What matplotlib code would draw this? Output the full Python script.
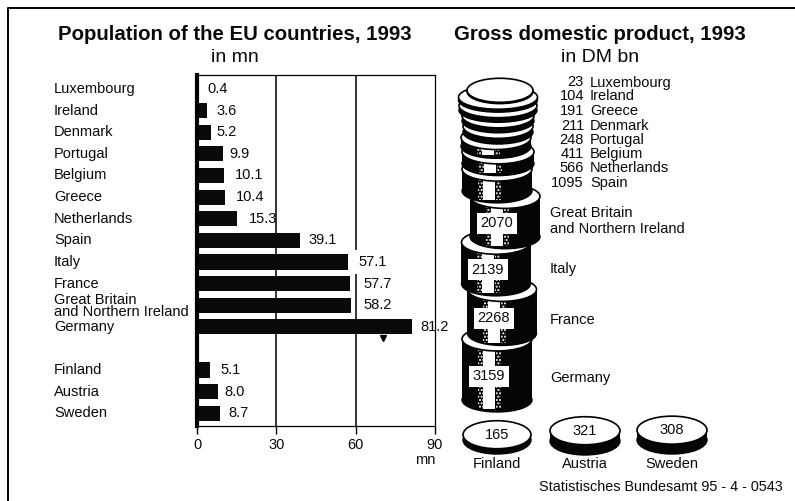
import matplotlib
matplotlib.use('agg')
import matplotlib.pyplot as plt
from matplotlib.patches import Ellipse, Rectangle

plt.rcParams['font.family'] = ['Liberation Sans', 'DejaVu Sans']

# population, mn
countries = ['Luxembourg', 'Ireland', 'Denmark', 'Portugal', 'Belgium', 'Greece', 'Netherlands',
             'Spain', 'Italy', 'France', 'Great Britain\nand Northern Ireland', 'Germany',
             'Finland', 'Austria', 'Sweden']
population = [0.4, 3.6, 5.2, 9.9, 10.1, 10.4, 15.3, 39.1, 57.1, 57.7, 58.2, 81.2, 5.1, 8.0, 8.7]
pop_labels = ['0.4', '3.6', '5.2', '9.9', '10.1', '10.4', '15.3', '39.1', '57.1', '57.7', '58.2',
              '81.2', '5.1', '8.0', '8.7']
rows = [0, 1, 2, 3, 4, 5, 6, 7, 8, 9, 10, 11, 13, 14, 15]
x_ticks = [0, 30, 60, 90]

# gdp, DM bn, top of the stack first
stack_names = ['Luxembourg', 'Ireland', 'Greece', 'Denmark', 'Portugal', 'Belgium', 'Netherlands', 'Spain',
               'Great Britain\nand Northern Ireland', 'Italy', 'France', 'Germany']
stack_gdp = [23, 104, 191, 211, 248, 411, 566, 1095, 2070, 2139, 2268, 3159]
single_names = ['Finland', 'Austria', 'Sweden']
single_gdp = [165, 321, 308]

W, H = 795, 501
fig = plt.figure(figsize=(W / 100, H / 100), dpi=100)


def fx(px):
    return px / W


def fy(py):
    return 1 - py / H


def label(px, py, s, **kw):
    kw.setdefault('va', 'center')
    kw.setdefault('fontsize', 10.5)
    fig.text(fx(px), fy(py), s, color='#0a0a0a', **kw)


# frame, only left and top survive in the scan
fig.add_artist(plt.Line2D([fx(8), fx(8), fx(795)], [0, fy(8), fy(8)], color='k', lw=1.4))

# titles
label(235, 35, 'Population of the EU countries, 1993', fontsize=14.7, fontweight='bold', ha='center')
label(235, 57, 'in mn', fontsize=14, ha='center')
label(600, 35, 'Gross domestic product, 1993', fontsize=14.7, fontweight='bold', ha='center')
label(600, 57, 'in DM bn', fontsize=14, ha='center')

# bar chart
ax = fig.add_axes([fx(197), fy(426), fx(238), (426 - 75) / H])
ax.barh(rows, population, height=0.7, color='#0a0a0a', zorder=3)
ax.set_xlim(0, 90)
ax.set_ylim(15.59, -0.648)
ax.set_xticks(x_ticks)
ax.set_yticks([])
ax.tick_params(axis='x', length=6, width=1, labelsize=10.5, pad=2.5, labelcolor='#0a0a0a')
for x in x_ticks[1:3]:
    ax.axvline(x, color='k', lw=1.1, zorder=1)
for s in ['top', 'right', 'bottom']:
    ax.spines[s].set_linewidth(0.9)
ax.spines['left'].set_linewidth(3)
ax.spines['left'].set_zorder(4)

val_pad = [9, 9.5, 6, 6, 11, 11, 11, 8, 10, 14, 13, 9, 10, 6, 8]
for r, v, s, p in zip(rows, population, pop_labels, val_pad):
    # the 57.1 label sits in a white patch that breaks the 60 line
    box = dict(facecolor='white', edgecolor='none', pad=3.5) if s == '57.1' else None
    ax.annotate(s, (v, r), xytext=(p * 0.72, 0), textcoords='offset points', va='center', fontsize=10.5,
                color='#0a0a0a', zorder=5, bbox=box)

row_px = (426 - 75) / (15.59 + 0.648)
for r, name in zip(rows, countries):
    py = 75 + (r + 0.648) * row_px
    if '\n' in name:
        label(54, py + 1, name, linespacing=0.8)
    else:
        label(54, py, name)
label(435, 460, 'mn', ha='right')

# coin stack, y in DM bn, x in pixels
PX_PER_BN = 0.019
GAP = 5.5 / PX_PER_BN
FACE_H = 24 / PX_PER_BN
sx = fig.add_axes([fx(440), fy(470), fx(355), (470 - 60) / H])
sx.set_xlim(440, 795)
sx.set_ylim(-70 / PX_PER_BN, 340 / PX_PER_BN)
sx.axis('off')

centres = [500, 498, 498, 498, 498, 496, 498, 497, 505, 496, 502, 497]
widths = [66, 79, 78, 72, 70, 70, 72, 70, 70, 69, 69, 70]


def coin(xc, bottom, thick, width, face_h, stripes=False):
    sx.add_patch(Ellipse((xc, bottom), width, face_h, facecolor='#050505', edgecolor='k', lw=1))
    sx.add_patch(Rectangle((xc - width / 2, bottom), width, thick, facecolor='#050505', edgecolor='none'))
    if stripes:
        y0 = bottom - face_h * 0.38
        hgt = thick + face_h * 0.3
        sx.add_patch(Rectangle((xc - 14, y0), 12, hgt, facecolor='white', edgecolor='none'))
        for dx in (-19, -1):
            sx.add_patch(Rectangle((xc + dx, y0), 5, hgt, facecolor='#050505', edgecolor='white',
                                   hatch='.....', lw=0))
    sx.add_patch(Ellipse((xc, bottom + thick), width, face_h, facecolor='white', edgecolor='k', lw=1.2))


# bottom of the stack goes first so that upper coins cover lower faces
level = 0
for name, v, xc, w in list(zip(stack_names, stack_gdp, centres, widths))[::-1]:
    thick = v + 1 / PX_PER_BN
    coin(xc, level, thick, w, FACE_H, stripes=v > 300)
    if v > 2000:
        sx.text(xc - 8, level + thick / 2 - FACE_H * 0.28, str(v), fontsize=10.5, ha='center', va='center',
                color='#0a0a0a', bbox=dict(facecolor='white', edgecolor='none', pad=2.5))
    level = level + thick + GAP

# names next to the stack
small_px = [82.5, 96.5, 111, 126, 140, 154, 168, 183]
for py, name, v in zip(small_px, stack_names[:8], stack_gdp[:8]):
    label(584, py, str(v), ha='right')
    label(590, py, name)
label(550, 221, stack_names[8], linespacing=1.15)
label(550, 269, stack_names[9])
label(550, 320, stack_names[10])
label(550, 378, stack_names[11])

# the three coins outside the stack
single_x = [497, 585, 672]
single_bottom = [-40, -41, -40]
single_w = [68, 70, 70]
for name, v, xc, b, w in zip(single_names, single_gdp, single_x, single_bottom, single_w):
    thick = v * 0.032 / PX_PER_BN
    coin(xc, b / PX_PER_BN, thick, w, 28 / PX_PER_BN)
    sx.text(xc, b / PX_PER_BN + thick, str(v), fontsize=10.5, ha='center', va='center', color='#0a0a0a')
    label(xc, 464, name, ha='center')

label(783, 487, 'Statistisches Bundesamt 95 - 4 - 0543', fontsize=10.4, ha='right')

# small blot under the Germany bar, from the scan
ax.plot([70.5], [11.5], marker='v', ms=4, color='k', zorder=3, clip_on=False)

fig.savefig('out.png', dpi=100)
